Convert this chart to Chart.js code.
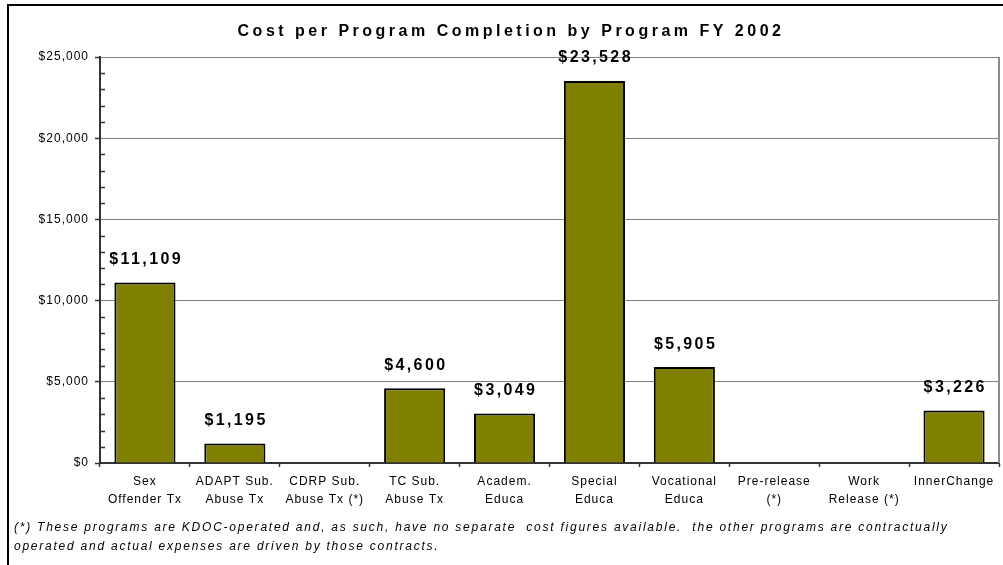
<!DOCTYPE html>
<html>
<head>
<meta charset="utf-8">
<title>Cost per Program Completion by Program FY 2002</title>
<script src="https://cdn.jsdelivr.net/npm/chart.js@4.4.1/dist/chart.umd.min.js"></script>
<style>
    html, body { margin: 0; padding: 0; background: #fff; }
    #wrap { position: relative; width: 1003px; height: 565px; }
</style>
</head>
<body>
<div id="wrap"><canvas id="costChart"></canvas></div>
<script>
// Program names (two-line labels) and cost per completion, FY 2002
const programs = [
    ['Sex', 'Offender Tx'],
    ['ADAPT Sub.', 'Abuse Tx'],
    ['CDRP Sub.', 'Abuse Tx (*)'],
    ['TC Sub.', 'Abuse Tx'],
    ['Academ.', 'Educa'],
    ['Special', 'Educa'],
    ['Vocational', 'Educa'],
    ['Pre-release', '(*)'],
    ['Work', 'Release (*)'],
    'InnerChange'
];
const costs = [11109, 1195, null, 4600, 3049, 23528, 5905, null, null, 3226];

const yTicks = [0, 5000, 10000, 15000, 20000, 25000];

const titleText = 'Cost per Program Completion by Program FY 2002';
const noteLines = [
    '(*) These programs are KDOC-operated and, as such, have no separate  cost figures available.  the other programs are contractually',
    'operated and actual expenses are driven by those contracts.'
];

const FONT = 'Arial, "Liberation Sans", sans-serif';
const OLIVE = '#808000';

function money(v) {
    return '$' + v.toLocaleString('en-US');
}

// outer frame, title, footnote, minor ticks and bar value labels
const decorations = {
    id: 'decorations',
    beforeDraw(chart) {
        const ctx = chart.ctx;
        ctx.save();
        ctx.fillStyle = '#fff';
        ctx.fillRect(0, 0, chart.width, chart.height);
        ctx.strokeStyle = '#000';
        ctx.lineWidth = 2;
        ctx.beginPath();
        ctx.moveTo(8, chart.height + 2);
        ctx.lineTo(8, 5);
        ctx.lineTo(chart.width + 2, 5);
        ctx.stroke();
        ctx.restore();
        // axis labels are a little spaced out
        ctx.letterSpacing = '1px';
    },
    afterDraw(chart) {
        const ctx = chart.ctx;
        const area = chart.chartArea;
        const y = chart.scales.y;

        ctx.save();
        // right edge of the plot
        ctx.strokeStyle = '#8c8c8c';
        ctx.lineWidth = 2;
        ctx.beginPath();
        ctx.moveTo(area.right, area.top);
        ctx.lineTo(area.right, area.bottom);
        ctx.stroke();

        // minor ticks every 1,000 on the inside of the value axis
        ctx.strokeStyle = '#333';
        ctx.lineWidth = 1.5;
        for (let v = y.min; v <= y.max; v += 1000) {
            if (v % 5000 === 0) continue;
            const py = Math.round(y.getPixelForValue(v)) + 0.5;
            ctx.beginPath();
            ctx.moveTo(area.left, py);
            ctx.lineTo(area.left + 5, py);
            ctx.stroke();
        }

        // value above each bar
        ctx.fillStyle = '#000';
        ctx.font = 'bold 16px ' + FONT;
        ctx.letterSpacing = '2.4px';
        ctx.textAlign = 'center';
        ctx.textBaseline = 'middle';
        chart.getDatasetMeta(0).data.forEach((bar, i) => {
            if (costs[i] == null) return;
            ctx.fillText(money(costs[i]), bar.x + 1.2, bar.y - 23);
        });

        // title
        ctx.font = 'bold 16px ' + FONT;
        ctx.letterSpacing = '3.5px';
        ctx.fillText(titleText, 511, 32);

        // footnote
        ctx.font = 'italic 12px ' + FONT;
        ctx.letterSpacing = '1.76px';
        ctx.textAlign = 'left';
        noteLines.forEach((line, i) => {
            ctx.fillText(line, 14, 528 + i * 19);
        });
        ctx.restore();
        ctx.letterSpacing = '0px';
    }
};

const chart = new Chart(document.getElementById('costChart'), {
    type: 'bar',
    data: {
        labels: programs,
        datasets: [{
            data: costs,
            backgroundColor: OLIVE,
            borderColor: '#000',
            borderWidth: 2,
            categoryPercentage: 1,
            barPercentage: 0.68
        }]
    },
    options: {
        responsive: true,
        maintainAspectRatio: false,
        animation: false,
        devicePixelRatio: 1,
        layout: {
            padding: { top: 57, right: 4, left: 0, bottom: 0 }
        },
        plugins: {
            legend: { display: false },
            title: { display: false },
            tooltip: { enabled: false }
        },
        scales: {
            x: {
                offset: true,
                afterFit(scale) { scale.height = 102; },
                border: { color: '#333', width: 2 },
                grid: {
                    offset: true,
                    drawOnChartArea: false,
                    tickLength: 4,
                    tickColor: '#333',
                    tickWidth: 1.5
                },
                ticks: {
                    autoSkip: false,
                    maxRotation: 0,
                    padding: 6,
                    color: '#000',
                    font: { family: FONT, size: 12, lineHeight: 1.5 }
                }
            },
            y: {
                min: yTicks[0],
                max: yTicks[yTicks.length - 1],
                afterFit(scale) { scale.width = 100; },
                afterBuildTicks(scale) {
                    scale.ticks = yTicks.map(v => ({ value: v }));
                },
                border: { color: '#333', width: 2 },
                grid: {
                    color: '#808080',
                    lineWidth: 1,
                    tickLength: 5,
                    tickColor: '#333',
                    tickWidth: 1.5
                },
                ticks: {
                    padding: 6,
                    color: '#000',
                    font: { family: FONT, size: 12 },
                    callback: v => money(v)
                }
            }
        }
    },
    plugins: [decorations]
});
</script>
</body>
</html>
